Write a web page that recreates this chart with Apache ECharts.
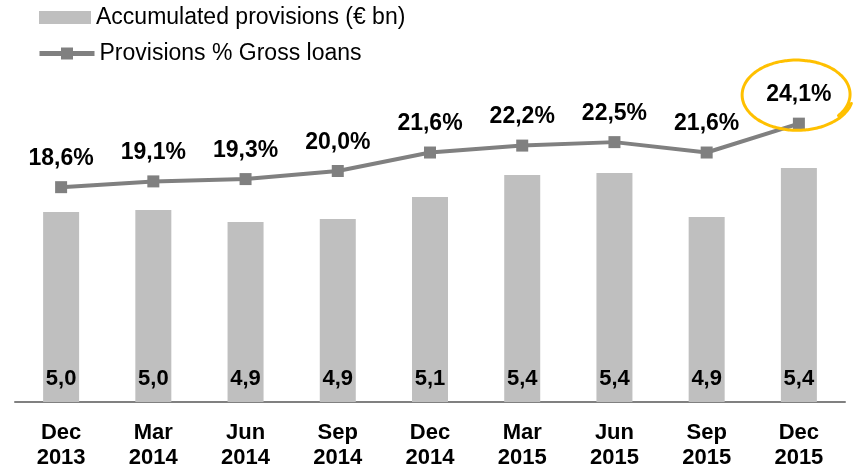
<!DOCTYPE html>
<html>
<head>
<meta charset="utf-8">
<script src="https://cdn.jsdelivr.net/npm/echarts@6/dist/echarts.min.js"></script>
<style>
  html, body { margin: 0; padding: 0; background: #fff; }
  #main { width: 856px; height: 476px; }
</style>
</head>
<body>
<div id="main"></div>
<script>
var FONT = '"Liberation Sans", Arial, sans-serif';

var categories = ['Dec\n2013', 'Mar\n2014', 'Jun\n2014', 'Sep\n2014', 'Dec\n2014',
  'Mar\n2015', 'Jun\n2015', 'Sep\n2015', 'Dec\n2015'];
// accumulated provisions, € bn (unrounded estimates, shown with one decimal)
var provisions = [4.99, 5.01, 4.89, 4.92, 5.14, 5.36, 5.38, 4.94, 5.43];
// provisions as % of gross loans
var provisionsPct = [18.6, 19.1, 19.3, 20.0, 21.6, 22.2, 22.5, 21.6, 24.1];

var barName = 'Accumulated provisions (€ bn)';
var lineName = 'Provisions % Gross loans';

function comma(v) { return v.toFixed(1).replace('.', ','); }

var chart = echarts.init(document.getElementById('main'));

var legendText = { fontFamily: FONT, fontSize: 23, color: '#000' };

chart.setOption({
  animation: false,
  textStyle: { fontFamily: FONT },
  legend: [{
    data: [{ name: barName, icon: 'rect' }],
    left: 39, top: 6, padding: 0,
    itemWidth: 52, itemHeight: 13,
    textStyle: legendText
  }, {
    data: [{ name: lineName, lineStyle: { width: 5 } }],
    left: 37, top: 42, padding: 0,
    itemWidth: 55, itemHeight: 15,
    textStyle: legendText
  }],
  grid: { left: 15, right: 11, top: 55.5, height: 346.5 },
  xAxis: {
    type: 'category',
    data: categories,
    axisLine: { lineStyle: { color: '#808080', width: 2 } },
    axisTick: { show: false },
    axisLabel: {
      margin: 18, fontSize: 22, fontWeight: 'bold', color: '#000',
      lineHeight: 25, fontFamily: FONT, interval: 0
    }
  },
  yAxis: [{
    type: 'value', min: 3.09, max: 6.555, show: false, splitLine: { show: false }
  }, {
    type: 'value', min: 0, max: 30, show: false, splitLine: { show: false }
  }],
  series: [{
    name: barName,
    type: 'bar',
    yAxisIndex: 0,
    data: provisions,
    barWidth: 36,
    itemStyle: { color: '#BFBFBF' },
    label: {
      show: true, position: 'insideBottom', distance: 12,
      fontSize: 22, fontWeight: 'bold', color: '#000', fontFamily: FONT,
      formatter: function (p) { return comma(p.value); }
    }
  }, {
    name: lineName,
    type: 'line',
    yAxisIndex: 1,
    data: provisionsPct,
    symbol: 'rect', symbolSize: 12,
    lineStyle: { color: '#808080', width: 4 },
    itemStyle: { color: '#808080' },
    label: {
      show: true, position: 'top', distance: 11,
      fontSize: 23, fontWeight: 'bold', color: '#000', fontFamily: FONT,
      formatter: function (p) { return comma(p.value) + '%'; }
    }
  }]
});

// hand-drawn highlight around the last value
var last = provisionsPct.length - 1;
var pt = chart.convertToPixel({ xAxisIndex: 0, yAxisIndex: 1 }, [last, provisionsPct[last]]);
var cx = pt[0] - 2, cy = pt[1] - 29, rx = 53, ry = 34;
var pts = [];
for (var a = -0.35; a <= 2 * Math.PI + 0.1; a += 0.05) {
  var r = 1 + 0.06 * (a / (2 * Math.PI));
  pts.push([cx + rx * r * Math.cos(-a + Math.PI * 0.1), cy + ry * r * Math.sin(-a + Math.PI * 0.1)]);
}
chart.setOption({
  graphic: [{
    type: 'polyline',
    shape: { points: pts, smooth: 0.3 },
    style: { stroke: '#FFC000', lineWidth: 3, fill: null, lineCap: 'round' },
    z: 10
  }]
});
</script>
</body>
</html>
